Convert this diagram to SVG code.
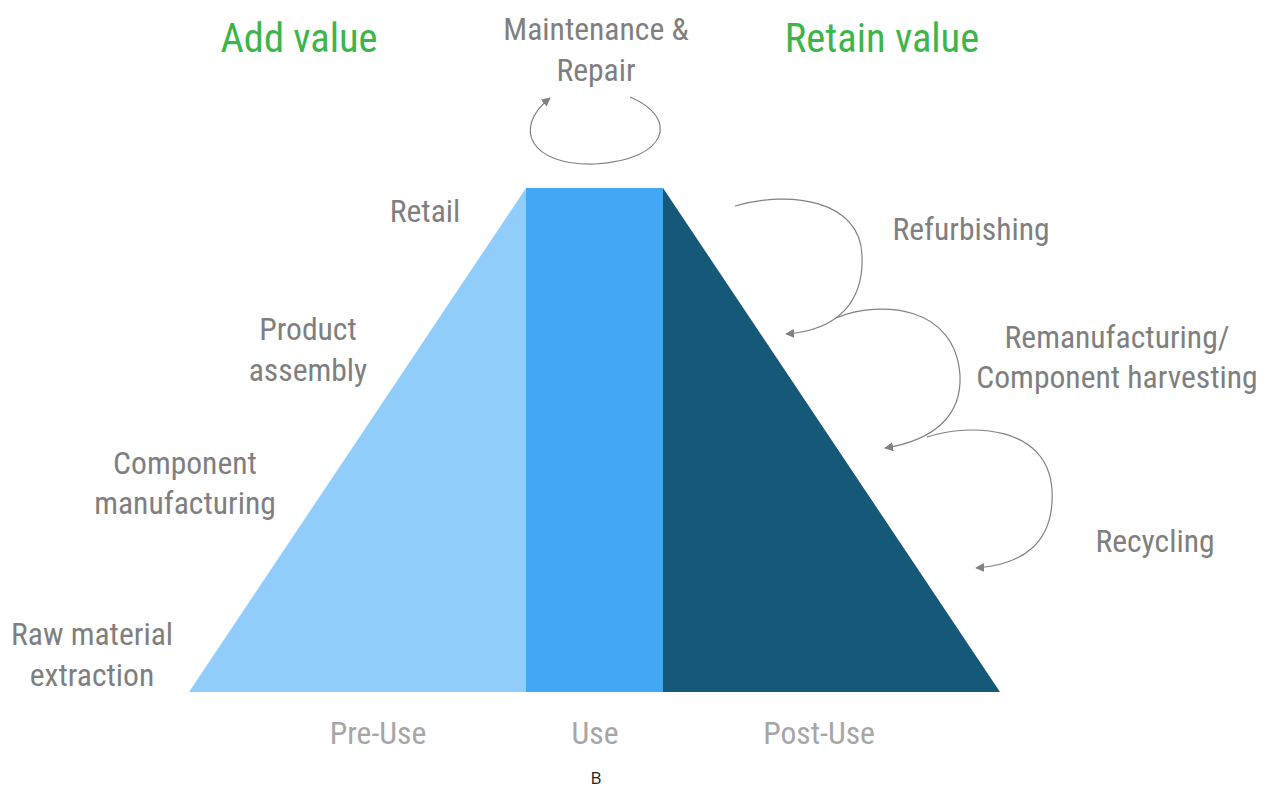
<svg xmlns="http://www.w3.org/2000/svg" width="1268" height="790" viewBox="0 0 1268 790">
<defs>
<style>
.t{font-family:"Roboto Condensed","Liberation Sans Narrow",Roboto,sans-serif;font-stretch:condensed;fill:#7f7f7f;font-size:31.6px;text-anchor:middle}
.g{fill:#3cb54a;font-size:40.5px}
.p{fill:#a6a6a6}
.c{fill:none;stroke:#808080;stroke-width:1.2;marker-end:url(#ah)}
</style>
<marker id="ah" viewBox="0 0 10 10" refX="9" refY="5" markerWidth="9" markerHeight="9" markerUnits="userSpaceOnUse" orient="auto"><path d="M0,0L10,5L0,10z" fill="#808080"/></marker>
</defs>
<rect width="1268" height="790" fill="#fff"/>
<g id="pre-use"><polygon points="189,692 526,188 526,692" fill="#90cdfb"/></g>
<g id="use"><rect x="526" y="188" width="137" height="504" fill="#42a8f5"/></g>
<g id="post-use"><polygon points="663,188 1000,692 663,692" fill="#155877"/></g>
<g id="connectors">
<path class="c" d="M630,97 C680,118 668,160 595,164 C530,166 512,128 550,98"/>
<path class="c" d="M735,206 C790,190 860,200 862,255 C864,300 840,330 786,334"/>
<path class="c" d="M836,318 C880,300 955,305 960,375 C962,415 935,440 885,448"/>
<path class="c" d="M927,437 C970,423 1048,425 1052,490 C1055,545 1020,565 976,568"/>
</g>
<g id="labels">
<text class="t g" x="299" y="52">Add value</text>
<text class="t g" x="882" y="52">Retain value</text>
<text class="t" x="596" y="40">Maintenance &amp;</text>
<text class="t" x="596" y="81">Repair</text>
<text class="t" x="425" y="222">Retail</text>
<text class="t" x="308" y="340">Product</text>
<text class="t" x="308" y="381">assembly</text>
<text class="t" x="185" y="474">Component</text>
<text class="t" x="185" y="514">manufacturing</text>
<text class="t" x="92" y="645">Raw material</text>
<text class="t" x="92" y="686">extraction</text>
<text class="t" x="971" y="240">Refurbishing</text>
<text class="t" x="1117" y="348">Remanufacturing/</text>
<text class="t" x="1117" y="388">Component harvesting</text>
<text class="t" x="1155" y="552">Recycling</text>
<text class="t p" x="378" y="744">Pre-Use</text>
<text class="t p" x="595" y="744">Use</text>
<text class="t p" x="819" y="744">Post-Use</text>
<text x="596" y="784" font-family="'Open Sans',sans-serif" font-size="17" text-anchor="middle" fill="#222">B</text>
</g>
</svg>
